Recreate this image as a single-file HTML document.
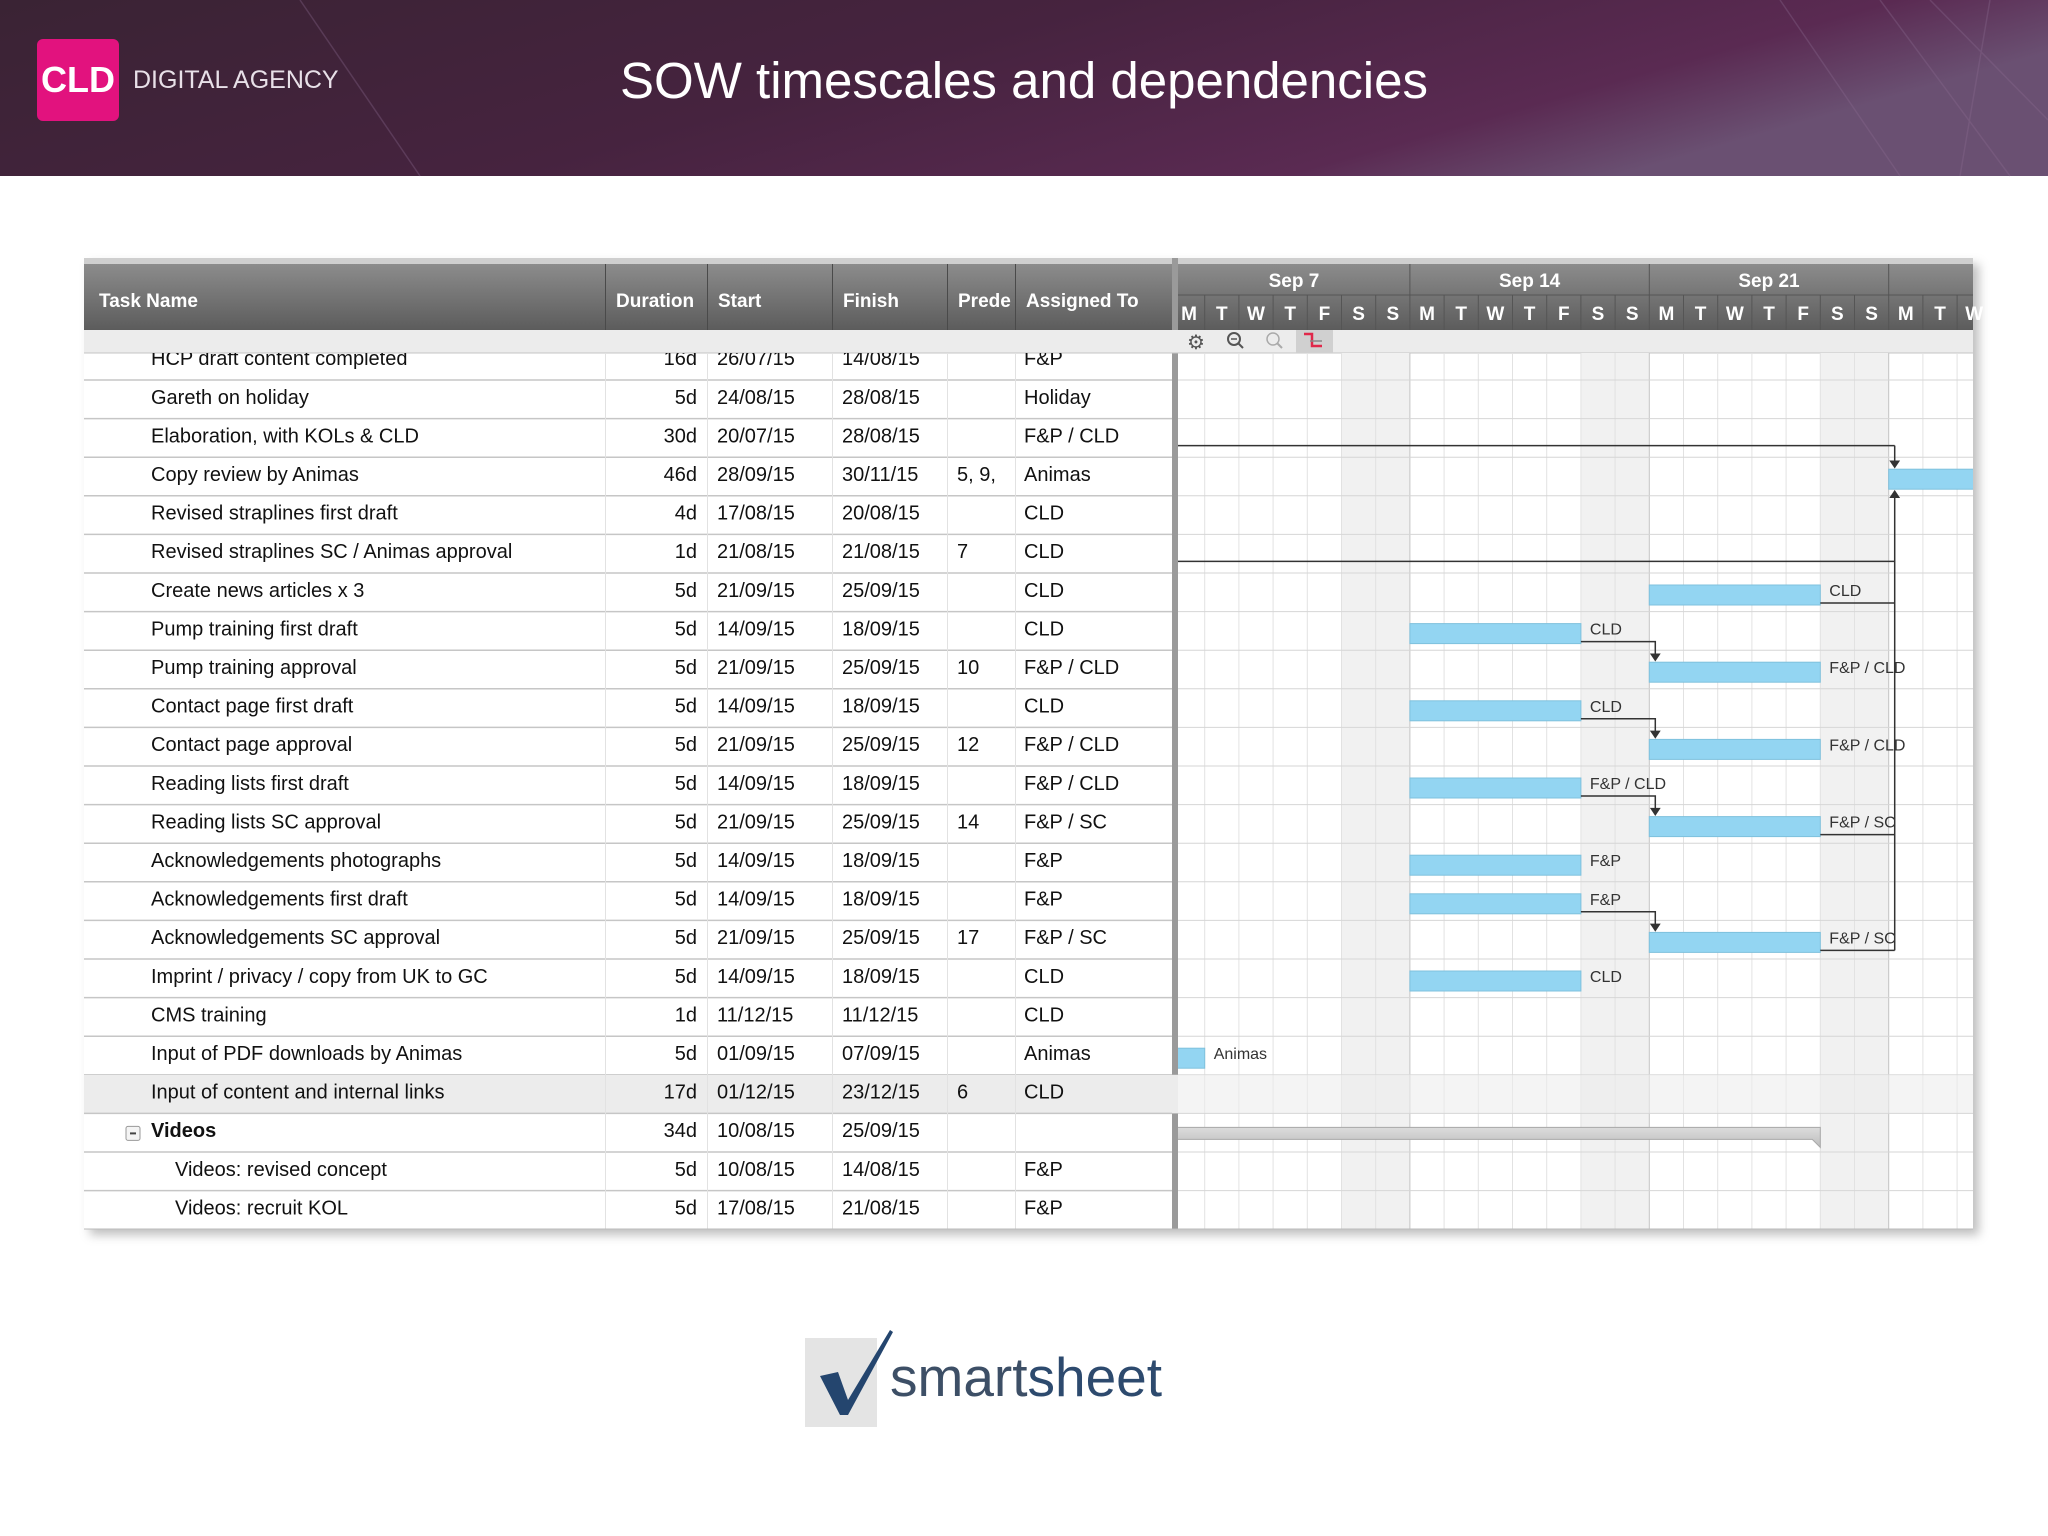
<!DOCTYPE html>
<html><head><meta charset="utf-8">
<style>
html,body{margin:0;padding:0;background:#fff;}
svg{display:block;font-family:"Liberation Sans",Arial,sans-serif;}
</style></head>
<body>
<svg id="s" width="2048" height="1536" viewBox="0 0 2048 1536" xmlns="http://www.w3.org/2000/svg">
<defs>
<linearGradient id="hdr" x1="0" y1="0" x2="1" y2="0.3">
<stop offset="0" stop-color="#3a2334"/><stop offset="0.5" stop-color="#46233f"/><stop offset="0.85" stop-color="#5a2a52"/><stop offset="1" stop-color="#6a5072"/>
</linearGradient>
<linearGradient id="th" x1="0" y1="0" x2="0" y2="1">
<stop offset="0" stop-color="#8c8c8c"/><stop offset="1" stop-color="#5c5c5c"/>
</linearGradient>
<linearGradient id="gbar" x1="0" y1="0" x2="0" y2="1">
<stop offset="0" stop-color="#dcdcdc"/><stop offset="1" stop-color="#bdbdbd"/>
</linearGradient>
<filter id="sh" x="-5%" y="-5%" width="110%" height="110%"><feDropShadow dx="6" dy="6" stdDeviation="5" flood-color="#000" flood-opacity="0.25"/></filter>
<clipPath id="gclip"><rect x="1178" y="353" width="795" height="876"/></clipPath>
<clipPath id="tclip"><rect x="84" y="353" width="1094" height="876"/></clipPath>
</defs>
<g>
<rect x="0" y="0" width="2048" height="176" fill="url(#hdr)"/>
<path d="M1880 0 L2010 176 M1930 0 L2048 120 M1780 0 L1900 176 M300 0 L420 176 M1990 0 L1960 176" stroke="#8a6a90" stroke-width="1.5" opacity="0.35" fill="none"/>
</g>
<g>
<rect x="37" y="39" width="82" height="82" rx="6" fill="#e2127e"/>
<text x="78" y="92" font-size="36" fill="#fff" text-anchor="middle" font-weight="bold">CLD</text>
</g>
<text x="133" y="88" font-size="25" fill="#e8e0e8">DIGITAL AGENCY</text>
<text x="1024" y="98" font-size="51" fill="#ffffff" text-anchor="middle">SOW timescales and dependencies</text>

<g id="tbl"></g>

<g>
<rect x="805" y="1338" width="72" height="89" fill="#e4e4e4"/>
<path d="M820 1376 L838 1372 L848 1400 L890 1330 L893 1332 L848 1415 L840 1415 Z" fill="#24456e"/>
<text x="890" y="1396" font-size="55" fill="#3d4f66">smart<tspan fill="#2d4a6e">sheet</tspan></text>
</g>
</svg>
<script>
// ---- data ----
const taskNames = ["HCP draft content completed","Gareth on holiday","Elaboration, with KOLs & CLD","Copy review by Animas","Revised straplines first draft","Revised straplines SC / Animas approval","Create news articles x 3","Pump training first draft","Pump training approval","Contact page first draft","Contact page approval","Reading lists first draft","Reading lists SC approval","Acknowledgements photographs","Acknowledgements first draft","Acknowledgements SC approval","Imprint / privacy / copy from UK to GC","CMS training","Input of PDF downloads by Animas","Input of content and internal links","Videos","Videos: revised concept","Videos: recruit KOL"];
const durations = ["16d","5d","30d","46d","4d","1d","5d","5d","5d","5d","5d","5d","5d","5d","5d","5d","5d","1d","5d","17d","34d","5d","5d"];
const starts = ["26/07/15","24/08/15","20/07/15","28/09/15","17/08/15","21/08/15","21/09/15","14/09/15","21/09/15","14/09/15","21/09/15","14/09/15","21/09/15","14/09/15","14/09/15","21/09/15","14/09/15","11/12/15","01/09/15","01/12/15","10/08/15","10/08/15","17/08/15"];
const finishes = ["14/08/15","28/08/15","28/08/15","30/11/15","20/08/15","21/08/15","25/09/15","18/09/15","25/09/15","18/09/15","25/09/15","18/09/15","25/09/15","18/09/15","18/09/15","25/09/15","18/09/15","11/12/15","07/09/15","23/12/15","25/09/15","14/08/15","21/08/15"];
const preds = ["","","","5, 9,","","7","","","10","","12","","14","","","17","","","","6","","",""];
const assignees = ["F&P","Holiday","F&P / CLD","Animas","CLD","CLD","CLD","CLD","F&P / CLD","CLD","F&P / CLD","F&P / CLD","F&P / SC","F&P","F&P","F&P / SC","CLD","CLD","Animas","CLD","","F&P","F&P"];
const levels = [1,1,1,1,1,1,1,1,1,1,1,1,1,1,1,1,1,1,1,1,0,2,2];
const summaryRows = [20];
const weekLabels = ["Sep 7","Sep 14","Sep 21","Sep 28"];
const dayLetters = ["M","T","W","T","F","S","S"];
// elbow dependencies: [from row, to row]
const elbowFrom = [7,9,11,14];
const elbowTo = [8,10,12,15];
// dependencies feeding "Copy review"
const copyFrom = [2,5,6,12,15];
const copyTo = 3;

// ---- geometry ----
const S = document.getElementById('tbl');
const NS = "http://www.w3.org/2000/svg";
const ROW0 = 341.4, RH = 38.6;
const GX0 = 1178, GX1 = 1973, ORIGIN = 1170.5, DW = 34.2;
const BASE = Date.UTC(2015,8,7);
function rowTop(i){return ROW0 + i*RH;}
function dayIdx(s){const p=s.split('/');return (Date.UTC(2000+ +p[2],+p[1]-1,+p[0])-BASE)/86400000;}
function xDay(d){return ORIGIN + d*DW;}
function el(tag, attrs, parent, txt){const e=document.createElementNS(NS,tag);for(const k in attrs)e.setAttribute(k,attrs[k]);if(txt!==undefined)e.textContent=txt;(parent||S).appendChild(e);return e;}

const frame = el('rect',{x:84,y:258,width:1889,height:971,fill:'#fff',filter:'url(#sh)'});


el('rect',{x:84,y:258,width:1889,height:6,fill:'#cfcfcf'});
const hd = el('rect',{x:84,y:264,width:1094,height:66,fill:'url(#th)'});


el('rect',{x:1178,y:264,width:795,height:66,fill:'url(#th)'});
const colX=[84,605,707,832,947,1015,1172];
const colNames=["Task Name","Duration","Start","Finish","Prede","Assigned To"];
const colSlugs=["task-name","duration","start","finish","predecessors","assigned-to"];
colNames.forEach((n,i)=>{
  const t = el('text',{x:colX[i]+(i==0?15:11),y:307,'font-size':19,'font-weight':'bold',fill:'#fff'},S,n);
  
  
  if(i>0) el('line',{x1:colX[i]+0.5,y1:264,x2:colX[i]+0.5,y2:353,stroke:'#4a4a4a','stroke-width':1});
});
el('rect',{x:1172,y:258,width:6,height:971,fill:'#9a9a9a'});
el('line',{x1:1178,y1:295,x2:1973,y2:295,stroke:'#555','stroke-width':1});
for(let w=0;w<weekLabels.length;w++){
  const wx = xDay(w*7);
  if(w>0) el('line',{x1:wx,y1:264,x2:wx,y2:295,stroke:'#555'});
  const cx = Math.max(wx,GX0)+ (Math.min(wx+7*DW,GX1)-Math.max(wx,GX0))/2;
  if(w<3){
    const t = el('text',{x:cx,y:287,'font-size':19,'font-weight':'bold',fill:'#fff','text-anchor':'middle'},S,weekLabels[w]);
    
    
  }
}
for(let d=0;d<24;d++){
  const x=xDay(d);
  if(x+DW/2>GX1+8) break;
  if(d>0) el('line',{x1:x,y1:295,x2:x,y2:330,stroke:'#555'});
  const t = el('text',{x:Math.max(x+DW/2,GX0+11),y:320,'font-size':19,'font-weight':'bold',fill:'#fff','text-anchor':'middle'},S,dayLetters[d%7]);
  
  
}
el('rect',{x:84,y:330,width:1889,height:23,fill:'#ececec'});
el('line',{x1:84,y1:353,x2:1973,y2:353,stroke:'#c4c4c4'});
const tb = el('g',{});


const g1=el('text',{x:1196,y:349,'font-size':20,fill:'#555','text-anchor':'middle'},tb,'⚙');


const z1=el('g',{},tb);


el('circle',{cx:1234,cy:339,r:6,fill:'none',stroke:'#555','stroke-width':2},z1);
el('line',{x1:1238,y1:343,x2:1243,y2:348,stroke:'#555','stroke-width':2},z1);
el('line',{x1:1231,y1:339,x2:1237,y2:339,stroke:'#555','stroke-width':1.5},z1);
const z2=el('g',{},tb);


el('circle',{cx:1273,cy:339,r:6,fill:'none',stroke:'#aaa','stroke-width':1.5},z2);
el('line',{x1:1277,y1:343,x2:1282,y2:348,stroke:'#aaa','stroke-width':2},z2);
const cp=el('g',{},tb);


el('rect',{x:1296,y:330,width:37,height:23,fill:'#d0d0d0'},cp);
el('path',{d:'M1304 334 H1312 V346 H1322',stroke:'#e0284a','stroke-width':2.5,fill:'none'},cp);
el('line',{x1:1310,y1:341,x2:1322,y2:341,stroke:'#888','stroke-width':1.5},cp);

const G = el('g',{'clip-path':'url(#gclip)'});
const T = el('g',{'clip-path':'url(#tclip)'});
for(let d=0;d<28;d++){ if(d%7>=5) el('rect',{x:xDay(d),y:353,width:DW,height:876,fill:'#f1f1f1'},G); }
for(let d=0;d<28;d++){ el('line',{x1:xDay(d),y1:353,x2:xDay(d),y2:1229,stroke:d%7==0?'#c4c4c4':'#e2e2e2'},G); }
for(let i=0;i<taskNames.length;i++){
  const y=rowTop(i);
  const rg = el('g',{},T);
  
  
  if(i==19) el('rect',{x:84,y:y,width:1094,height:RH,fill:'#ececec'},rg);
  if(i==19) el('rect',{x:1178,y:y,width:795,height:RH,fill:'#ececec',opacity:0.6},G);
  el('line',{x1:84,y1:y+RH,x2:1172,y2:y+RH,stroke:'#c6c6c6','stroke-width':1.5},rg);
  el('line',{x1:1178,y1:y+RH,x2:1973,y2:y+RH,stroke:'#d6d6d6'},G);
  for(let c=1;c<6;c++) el('line',{x1:colX[c]+0.5,y1:y,x2:colX[c]+0.5,y2:y+RH,stroke:'#e2e2e2'},rg);
  const ty=y+RH/2+4.5;
  const ix = levels[i]==0?151:(levels[i]==1?151:175);
  const isSum = summaryRows.includes(i);
  if(isSum){
    const tg=el('g',{},rg);
    
    
    el('rect',{x:126,y:y+13,width:14,height:14,rx:2,fill:'#f4f4f4',stroke:'#999'},tg);
    el('line',{x1:130,y1:y+20,x2:136,y2:y+20,stroke:'#444','stroke-width':2},tg);
  }
  el('text',{x:ix,y:ty,'font-size':20,fill:'#111','font-weight':isSum?'bold':'normal'},rg,taskNames[i]);
  el('text',{x:697,y:ty,'font-size':20,fill:'#111','text-anchor':'end'},rg,durations[i]);
  el('text',{x:717,y:ty,'font-size':20,fill:'#111'},rg,starts[i]);
  el('text',{x:842,y:ty,'font-size':20,fill:'#111'},rg,finishes[i]);
  el('text',{x:957,y:ty,'font-size':20,fill:'#111'},rg,preds[i]);
  el('text',{x:1024,y:ty,'font-size':20,fill:'#111'},rg,assignees[i]);
}
const bars = el('g',{},G);
for(let i=0;i<taskNames.length;i++){
  const s=dayIdx(starts[i]), f=dayIdx(finishes[i])+1;
  const x1=xDay(s), x2=xDay(f), y=rowTop(i);
  if(x2<GX0 || x1>GX1) continue;
  if(summaryRows.includes(i)){
    const sb=el('path',{d:`M${x1} ${y+14} H${x2} V${y+34} L${x2-8} ${y+26} H${x1+8} L${x1} ${y+34} Z`,fill:'url(#gbar)',stroke:'#a8a8a8'},bars);
    
    
    continue;
  }
  const b=el('rect',{x:x1,y:y+12,width:x2-x1,height:20,fill:'#93d5f2',stroke:'#7fc1dd','stroke-width':1},bars);
  
  
  if(x2<GX1-20){
    const l=el('text',{x:x2+9,y:y+23,'font-size':16,fill:'#333'},bars,assignees[i]);
    
    
  }
}
const deps = el('g',{stroke:'#333','stroke-width':1.5,fill:'none'},G);


for(let k=0;k<elbowFrom.length;k++){
  const a=elbowFrom[k], b=elbowTo[k];
  const ex=xDay(dayIdx(finishes[a])+1), ly=rowTop(a)+30;
  const tx=xDay(dayIdx(starts[b]))+6, ty=rowTop(b)+9;
  el('path',{d:`M${ex} ${ly} H${tx} V${ty}`},deps);
  el('path',{d:`M${tx-4} ${ty-5} L${tx} ${ty+1} L${tx+4} ${ty-5} Z`,fill:'#333'},deps);
}
const cx = xDay(dayIdx(starts[copyTo]))+6;
let maxY = 0;
copyFrom.forEach(a=>{
  const ex = dayIdx(finishes[a])+1;
  const sx = Math.max(xDay(ex),GX0-2);
  const ly = rowTop(a)+(xDay(ex)<GX0?27:30);
  el('path',{d:`M${sx} ${ly} H${cx}`},deps);
  if(ly>maxY) maxY=ly;
});
const ct = rowTop(copyTo);
el('path',{d:`M${cx} ${rowTop(copyTo-1)+27} V${ct+9}`},deps);
el('path',{d:`M${cx-4} ${ct+4} L${cx} ${ct+10} L${cx+4} ${ct+4} Z`,fill:'#333'},deps);
el('path',{d:`M${cx} ${maxY} V${ct+34}`},deps);
el('path',{d:`M${cx-4} ${ct+40} L${cx} ${ct+34} L${cx+4} ${ct+40} Z`,fill:'#333'},deps);
el('line',{x1:84,y1:1229,x2:1973,y2:1229,stroke:'#bbb'});
</script>
</body></html>
